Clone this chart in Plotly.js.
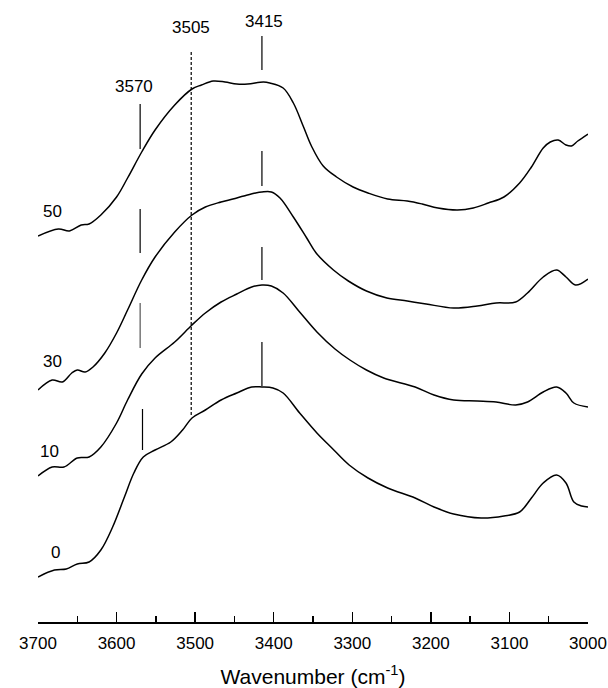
<!DOCTYPE html>
<html>
<head>
<meta charset="utf-8">
<script src="https://cdn.plot.ly/plotly-3.0.1.min.js"></script>
<style>html,body{margin:0;padding:0;background:#fff;}#chart{width:608px;height:688px;}</style>
</head>
<body>
<div id="chart"></div>
<script>
// Wavenumbers (cm-1) and offset absorbance for each PCL content
const wn50 = [3700,3674,3660,3645,3635,3620,3600,3586,3568,3551,3526,3504,3492,3477,3462,3447,3433,3413,3405,3388,3375,3362,3352,3337,3320,3299,3280,3255,3230,3211,3191,3166,3146,3127,3107,3087,3072,3057,3048,3038,3028,3021,3013,3000];
const abs50 = [3.86,3.93,3.91,3.97,3.98,4.07,4.25,4.44,4.70,4.92,5.17,5.33,5.37,5.41,5.40,5.38,5.38,5.40,5.39,5.34,5.19,4.95,4.76,4.56,4.45,4.35,4.29,4.23,4.21,4.18,4.14,4.12,4.14,4.19,4.25,4.39,4.55,4.74,4.80,4.82,4.77,4.76,4.81,4.88];

const wn30 = [3700,3682,3669,3657,3650,3640,3630,3615,3600,3586,3568,3551,3526,3504,3487,3467,3452,3438,3423,3415,3403,3392,3375,3358,3346,3324,3305,3282,3256,3230,3206,3171,3141,3117,3092,3077,3057,3040,3028,3016,3000];
const abs30 = [2.32,2.42,2.40,2.49,2.52,2.50,2.55,2.69,2.89,3.12,3.42,3.65,3.90,4.07,4.15,4.20,4.23,4.26,4.29,4.30,4.30,4.24,4.05,3.84,3.69,3.52,3.41,3.31,3.24,3.21,3.18,3.14,3.16,3.19,3.20,3.29,3.45,3.52,3.45,3.37,3.43];

const wn10 = [3700,3682,3667,3650,3635,3620,3600,3586,3568,3551,3526,3504,3487,3467,3447,3428,3415,3403,3388,3367,3345,3322,3303,3282,3260,3220,3196,3171,3141,3117,3092,3077,3057,3040,3028,3018,3000];
const abs10 = [1.46,1.55,1.55,1.64,1.65,1.75,1.99,2.22,2.48,2.64,2.80,2.97,3.09,3.20,3.28,3.35,3.37,3.36,3.29,3.10,2.90,2.73,2.62,2.52,2.44,2.35,2.27,2.22,2.21,2.20,2.17,2.20,2.30,2.35,2.29,2.19,2.15];

const wn0 = [3700,3679,3664,3650,3635,3620,3605,3590,3578,3566,3551,3531,3516,3504,3487,3467,3447,3428,3415,3401,3388,3367,3345,3326,3304,3280,3255,3220,3196,3171,3136,3107,3087,3072,3057,3040,3028,3018,3008,3000];
const abs0 = [0.45,0.52,0.53,0.58,0.60,0.72,0.95,1.25,1.49,1.65,1.72,1.80,1.92,2.04,2.12,2.22,2.29,2.35,2.35,2.34,2.29,2.09,1.89,1.74,1.57,1.44,1.34,1.24,1.15,1.08,1.04,1.06,1.10,1.24,1.39,1.47,1.39,1.20,1.16,1.15];

const seriesLabels = ['50','30','10','0'];
const legendTitle = 'PCL wt%';
const peakPositions = [3570, 3505, 3415];
const peakLabels = ['3570','3505','3415'];
const tickValues = [3700,3600,3500,3400,3300,3200,3100,3000];
const tickLabels = ['3700','3600','3500','3400','3300','3200','3100','3000'];

const FONT = '"Liberation Sans", Arial, sans-serif';
const lineStyle = {color:'#000', width:1.5, shape:'spline', smoothing:1};

const traces = [
  {x: wn50, y: abs50},
  {x: wn30, y: abs30},
  {x: wn10, y: abs10},
  {x: wn0, y: abs0}
].map((t, i) => Object.assign(t, {type:'scatter', mode:'lines', line:lineStyle, name:seriesLabels[i], hoverinfo:'skip'}));

// marker segments (y extents, one per spectrum)
const seg3570 = [[5.18,4.73],[4.13,3.69],[3.19,2.74],[2.13,1.72]];
const seg3415 = [[5.86,5.52],[4.71,4.36],[3.75,3.42],[2.80,2.36]];
const seg3505 = [5.70, 2.05];

const shapes = [];
seg3570.forEach((s, i) => shapes.push({type:'line', xref:'x', yref:'y', x0:peakPositions[0] - (i===3 ? 3 : 0), x1:peakPositions[0] - (i===3 ? 3 : 0), y0:s[0], y1:s[1], line:{color:(i===2 ? '#555' : '#000'), width:1.2}}));
seg3415.forEach(s => shapes.push({type:'line', xref:'x', yref:'y', x0:peakPositions[2], x1:peakPositions[2], y0:s[0], y1:s[1], line:{color:'#000', width:1.2}}));
shapes.push({type:'line', xref:'x', yref:'y', x0:peakPositions[1], x1:peakPositions[1], y0:seg3505[0], y1:seg3505[1], line:{color:'#000', width:1.2, dash:'3px,2px'}});

const annFont = {family:FONT, size:17, color:'#000'};
const annotations = [
  {x:3578, y:5.36, text:peakLabels[0]},
  {x:peakPositions[1], y:5.95, text:peakLabels[1]},
  {x:3413, y:6.01, text:peakLabels[2]},
  {x:3682, y:4.11, text:seriesLabels[0]},
  {x:3682, y:2.61, text:seriesLabels[1]},
  {x:3685, y:1.71, text:seriesLabels[2]},
  {x:3678, y:0.70, text:seriesLabels[3]},
  {x:3731.8, y:4.64, text:legendTitle, xanchor:'left'}
].map(a => Object.assign({xref:'x', yref:'y', showarrow:false, font:annFont, xanchor:'center', yanchor:'middle'}, a));

const layout = {
  width:608, height:688,
  margin:{l:38, r:20, t:10, b:66, pad:0},
  paper_bgcolor:'#fff', plot_bgcolor:'#fff',
  showlegend:false,
  font:{family:FONT, color:'#000'},
  xaxis:{
    range:[3700,3000], autorange:false,
    tickmode:'array', tickvals:tickValues, ticktext:tickLabels,
    ticks:'inside', ticklen:10, tickwidth:1.5, tickcolor:'#000',
    ticklabelstandoff:5,
    minor:{dtick:50, tick0:3000, ticks:'inside', ticklen:6, tickwidth:1.5, tickcolor:'#000', showgrid:false},
    showline:true, linecolor:'#000', linewidth:1.5,
    showgrid:false, zeroline:false,
    tickfont:{family:FONT, size:17, color:'#000'},
    title:{text:'Wavenumber (cm<sup>-1</sup>)', font:{family:FONT, size:21, color:'#000'}, standoff:20},
    automargin:false
  },
  yaxis:{range:[0,6.12], autorange:false, visible:false, showgrid:false, zeroline:false},
  shapes:shapes,
  annotations:annotations
};

Plotly.newPlot('chart', traces, layout, {staticPlot:true, displayModeBar:false});
</script>
</body>
</html>
